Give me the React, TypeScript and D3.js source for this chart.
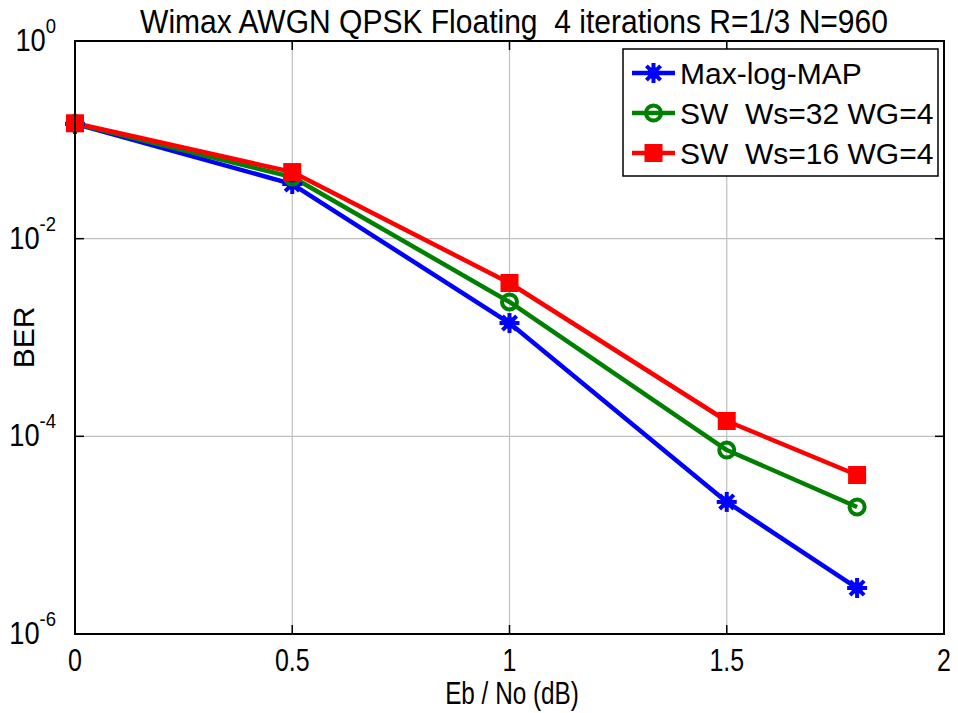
import React from "react";
import * as d3 from "d3";

const xValues = [0, 0.5, 1, 1.5, 1.8];
const maxLogMap = [0.145, 0.0357, 0.0014, 2.17e-5, 2.92e-6];
const sw32 = [0.146, 0.042, 0.00229, 7.27e-5, 1.93e-5];
const sw16 = [0.147, 0.0472, 0.00356, 1.43e-4, 4.06e-5];
const xTicks = [0, 0.5, 1, 1.5, 2];
const xTickLabels = ["0", "0.5", "1", "1.5", "2"];
const yTickExps = [0, -2, -4, -6];
const seriesNames = ["Max-log-MAP", "SW  Ws=32 WG=4", "SW  Ws=16 WG=4"];
const seriesColors = ["#0000ff", "#008000", "#ff0000"];
const seriesMarkers = ["asterisk", "circle", "square"];
const titleText = "Wimax AWGN QPSK Floating  4 iterations R=1/3 N=960";
const xLabel = "Eb / No (dB)";
const yLabel = "BER";

const W = 958, H = 713;
const L = 75, R = 944, T = 41, B = 634;
const FONT = "'Liberation Sans', Arial, sans-serif";

function Marker({ kind, x, y, color, s = 1 }: { kind: string; x: number; y: number; color: string; s?: number }) {
  if (kind === "asterisk") {
    const r = 10 * s;
    const segs = [0, 45, 90, 135].map((a) => {
      const rad = (a * Math.PI) / 180;
      return (
        <line key={a} x1={x - r * Math.cos(rad)} y1={y - r * Math.sin(rad)} x2={x + r * Math.cos(rad)} y2={y + r * Math.sin(rad)}
          stroke={color} strokeWidth={4} />
      );
    });
    return <g>{segs}<circle cx={x} cy={y} r={6 * s} fill={color} /></g>;
  }
  if (kind === "circle") {
    return <circle cx={x} cy={y} r={7.5 * s} fill="none" stroke={color} strokeWidth={4} />;
  }
  return <rect x={x - 8 * s} y={y - 8 * s} width={16 * s} height={16 * s} fill={color} stroke={color} strokeWidth={2} />;
}

export default function App() {
  const x = d3.scaleLinear().domain([0, 2]).range([L, R]);
  const y = d3.scaleLog().domain([1, 1e-6]).range([T, B]);
  const series = [maxLogMap, sw32, sw16];
  const line = d3.line<[number, number]>().x((d) => x(d[0])).y((d) => y(d[1]));

  const lgX = 623, lgY = 49, lgW = 315, lgH = 127;

  return (
    <svg width={W} height={H} style={{ position: "absolute", left: 0, top: 0, background: "#fff", whiteSpace: "pre" }} fontFamily={FONT}>
      <rect x={0} y={0} width={W} height={H} fill="#fff" />
      {xTicks.slice(1, -1).map((t) => (
        <line key={"gx" + t} x1={x(t)} x2={x(t)} y1={T} y2={B} stroke="#c0c0c0" strokeWidth={1.2} />
      ))}
      {yTickExps.slice(1, -1).map((e) => (
        <line key={"gy" + e} x1={L} x2={R} y1={y(Math.pow(10, e))} y2={y(Math.pow(10, e))} stroke="#c0c0c0" strokeWidth={1.2} />
      ))}
      {series.map((s, i) => (
        <path key={"l" + i} d={line(xValues.map((v, j) => [v, s[j]] as [number, number])) || ""} fill="none"
          stroke={seriesColors[i]} strokeWidth={4.5} strokeLinejoin="round" />
      ))}
      {series.map((s, i) => (
        <g key={"m" + i}>
          {xValues.map((v, j) => (
            <Marker key={j} kind={seriesMarkers[i]} x={x(v)} y={y(s[j])} color={seriesColors[i]} />
          ))}
        </g>
      ))}
      <rect x={L} y={T} width={R - L} height={B - T} fill="none" stroke="#000" strokeWidth={2} />
      {xTicks.map((t) => (
        <g key={"tx" + t}>
          <line x1={x(t)} x2={x(t)} y1={B} y2={B - 9} stroke="#000" strokeWidth={1.5} />
          <line x1={x(t)} x2={x(t)} y1={T} y2={T + 9} stroke="#000" strokeWidth={1.5} />
        </g>
      ))}
      {yTickExps.map((e) => (
        <g key={"ty" + e}>
          <line x1={L} x2={L + 9} y1={y(Math.pow(10, e))} y2={y(Math.pow(10, e))} stroke="#000" strokeWidth={1.5} />
          <line x1={R} x2={R - 9} y1={y(Math.pow(10, e))} y2={y(Math.pow(10, e))} stroke="#000" strokeWidth={1.5} />
        </g>
      ))}
      {xTicks.map((t, i) => (
        <text key={"xl" + t} transform={`translate(${x(t)},671) scale(0.78,1)`} textAnchor="middle" fontSize={32}>{xTickLabels[i]}</text>
      ))}
      {yTickExps.map((e) => (
        <text key={"yl" + e} transform={`translate(56,${y(Math.pow(10, e)) + 10}) scale(0.88,1)`} textAnchor="end" fontSize={31}>
          10
          <tspan dy={-18} fontSize={21}>{String(e)}</tspan>
        </text>
      ))}
      <text transform="translate(512,704) scale(0.76,1)" textAnchor="middle" fontSize={32}>{xLabel}</text>
      <text transform={`translate(34,${(T + B) / 2}) rotate(-90)`} textAnchor="middle" fontSize={30}>{yLabel}</text>
      <text transform="translate(514,33) scale(0.91,1)" textAnchor="middle" fontSize={33} style={{ whiteSpace: "pre" }}>{titleText}</text>
      <rect x={lgX} y={lgY} width={lgW} height={lgH} fill="#fff" stroke="#000" strokeWidth={1.5} />
      {seriesNames.map((n, i) => {
        const cy = 73 + i * 40;
        return (
          <g key={"lg" + i}>
            <line x1={632} x2={675} y1={cy} y2={cy} stroke={seriesColors[i]} strokeWidth={4.5} />
            <Marker kind={seriesMarkers[i]} x={653.5} y={cy} color={seriesColors[i]} />
            <text x={680} y={cy + 11} fontSize={30} style={{ whiteSpace: "pre" }}>{n}</text>
          </g>
        );
      })}
    </svg>
  );
}
